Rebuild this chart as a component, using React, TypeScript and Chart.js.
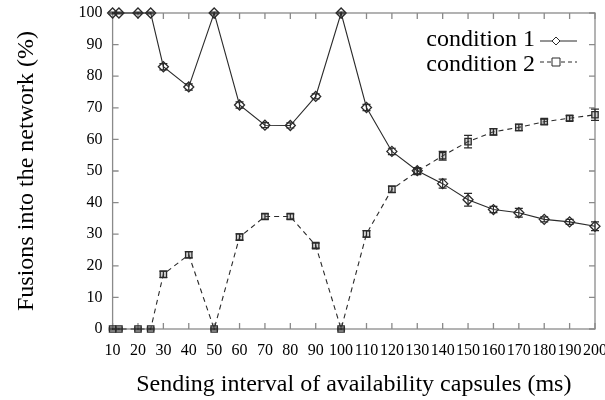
import React, { useEffect, useRef } from "react";
import { Chart, registerables } from "chart.js";
Chart.register(...registerables);

const xValues = [10, 12.5, 20, 25, 30, 40, 50, 60, 70, 80, 90, 100, 110, 120, 130, 140, 150, 160, 170, 180, 190, 200];
const cond1 = [100, 100, 100, 100, 83, 76.6, 100, 70.9, 64.5, 64.4, 73.6, 100, 70.1, 56.2, 50.1, 46, 40.9, 37.8, 36.8, 34.7, 33.9, 32.5];
const cond1Err = [0.3, 0.3, 0.3, 0.3, 1, 1, 0.3, 1, 0.8, 0.8, 0.8, 0.3, 1, 1, 1, 1.4, 2, 1, 1.4, 0.8, 0.8, 1.4];
const cond2 = [0, 0, 0, 0, 17.3, 23.5, 0, 29.1, 35.6, 35.6, 26.4, 0, 30.1, 44.2, 49.9, 54.8, 59.3, 62.4, 63.8, 65.6, 66.7, 67.8];
const cond2Err = [0.3, 0.3, 0.3, 0.3, 1, 1, 0.3, 1, 0.8, 0.8, 0.8, 0.3, 1, 1, 1, 1.4, 2, 1, 1, 0.8, 0.8, 1.8];
const seriesLabels = ["condition 1", "condition 2"];
const xTitle = "Sending interval of availability capsules (ms)";
const yTitle = "Fusions into the network (%)";

const FONT = "'Liberation Serif', 'DejaVu Serif', serif";
const LINE = "#2a2a2a";
const AXIS = "#8a8a8a";

const frame = {
  id: "frame",
  beforeDatasetsDraw(chart: any) {
    const { ctx, chartArea: a, scales } = chart;
    ctx.save();
    ctx.strokeStyle = AXIS;
    ctx.lineWidth = 1.3;
    ctx.strokeRect(a.left, a.top, a.right - a.left, a.bottom - a.top);
    const tl = 6;
    ctx.beginPath();
    scales.x.ticks.forEach((t: any) => {
      const px = scales.x.getPixelForValue(t.value);
      ctx.moveTo(px, a.bottom);
      ctx.lineTo(px, a.bottom - tl);
      ctx.moveTo(px, a.top);
      ctx.lineTo(px, a.top + tl);
    });
    scales.y.ticks.forEach((t: any) => {
      const py = scales.y.getPixelForValue(t.value);
      ctx.moveTo(a.left, py);
      ctx.lineTo(a.left + tl, py);
      ctx.moveTo(a.right, py);
      ctx.lineTo(a.right - tl, py);
    });
    ctx.stroke();
    ctx.restore();
  },
};

const errorBars = {
  id: "errorBars",
  afterDatasetsDraw(chart: any) {
    const { ctx, scales } = chart;
    const errs = [cond1Err, cond2Err];
    ctx.save();
    ctx.strokeStyle = LINE;
    ctx.lineWidth = 1.2;
    chart.data.datasets.forEach((ds: any, i: number) => {
      ds.data.forEach((p: any, j: number) => {
        const e = errs[i][j];
        const px = scales.x.getPixelForValue(p.x);
        const y1 = scales.y.getPixelForValue(p.y - e);
        const y2 = scales.y.getPixelForValue(p.y + e);
        ctx.beginPath();
        ctx.moveTo(px, y1);
        ctx.lineTo(px, y2);
        ctx.moveTo(px - 4, y1);
        ctx.lineTo(px + 4, y1);
        ctx.moveTo(px - 4, y2);
        ctx.lineTo(px + 4, y2);
        ctx.stroke();
      });
    });
    ctx.restore();
  },
};

const legendPlugin = {
  id: "customLegend",
  afterDraw(chart: any) {
    const { ctx } = chart;
    ctx.save();
    const rows = [
      { y: 40, ly: 41, dash: [] as number[], style: "rectRot" },
      { y: 65, ly: 62, dash: [4, 3], style: "rect" },
    ];
    chart.data.datasets.forEach((ds: any, i: number) => {
      const r = rows[i];
      ctx.fillStyle = "#000";
      ctx.font = `24px ${FONT}`;
      ctx.textAlign = "right";
      ctx.textBaseline = "middle";
      ctx.fillText(ds.label, 535, r.y);
      ctx.strokeStyle = LINE;
      ctx.lineWidth = 1;
      ctx.setLineDash(r.dash);
      ctx.beginPath();
      ctx.moveTo(540, r.ly);
      ctx.lineTo(577, r.ly);
      ctx.stroke();
      ctx.setLineDash([]);
      ctx.fillStyle = "#fff";
      ctx.beginPath();
      const cx = 556;
      if (r.style === "rectRot") {
        ctx.moveTo(cx, r.ly - 4);
        ctx.lineTo(cx + 4, r.ly);
        ctx.lineTo(cx, r.ly + 4);
        ctx.lineTo(cx - 4, r.ly);
        ctx.closePath();
      } else {
        ctx.rect(cx - 4, r.ly - 4, 8, 8);
      }
      ctx.fill();
      ctx.stroke();
    });
    ctx.restore();
  },
};

export default function App() {
  const ref = useRef<HTMLCanvasElement>(null);
  useEffect(() => {
    const canvas = ref.current!;
    const chart = new Chart(canvas, {
      type: "line",
      data: {
        datasets: [
          {
            label: seriesLabels[0],
            data: xValues.map((x, i) => ({ x, y: cond1[i] })),
            borderColor: LINE,
            borderWidth: 1.1,
            pointStyle: "rectRot",
            pointRadius: 5,
            pointBorderColor: LINE,
            pointBackgroundColor: "rgba(255,255,255,0)",
            pointBorderWidth: 1.3,
            clip: false as any,
          },
          {
            label: seriesLabels[1],
            data: xValues.map((x, i) => ({ x, y: cond2[i] })),
            borderColor: LINE,
            borderWidth: 1.1,
            borderDash: [5, 4],
            pointStyle: "rect",
            pointRadius: 4.5,
            pointBorderColor: LINE,
            pointBackgroundColor: "rgba(120,120,120,0.35)",
            pointBorderWidth: 1.3,
            clip: false as any,
          },
        ],
      },
      options: {
        animation: false,
        responsive: false,
        layout: { padding: { top: 13, right: 10, left: 0, bottom: 0 } },
        plugins: { legend: { display: false }, tooltip: { enabled: false } },
        scales: {
          x: {
            type: "linear",
            min: 10,
            max: 200,
            grid: { display: false, drawTicks: false },
            border: { display: false },
            ticks: {
              stepSize: 10,
              autoSkip: false,
              maxRotation: 0,
              padding: 12,
              color: "#000",
              font: { family: FONT, size: 16 },
            },
            title: {
              display: true,
              text: xTitle,
              color: "#000",
              font: { family: FONT, size: 24 },
              padding: { top: 0, bottom: 1 },
            },
            afterFit(scale: any) {
              scale.height = 71;
              scale.paddingLeft = 0;
              scale.paddingRight = 0;
            },
          },
          y: {
            min: 0,
            max: 100,
            grid: { display: false, drawTicks: false },
            border: { display: false },
            ticks: {
              stepSize: 10,
              padding: 10,
              color: "#000",
              font: { family: FONT, size: 16 },
            },
            title: {
              display: true,
              text: yTitle,
              color: "#000",
              font: { family: FONT, size: 24 },
              padding: { top: 12, bottom: 0 },
            },
            afterFit(scale: any) {
              scale.width = 112.6;
              scale.paddingTop = 0;
              scale.paddingBottom = 0;
            },
          },
        },
      },
      plugins: [frame, errorBars, legendPlugin],
    });
    return () => chart.destroy();
  }, []);
  return (
    <div style={{ position: "fixed", left: 0, top: 0, width: 605, height: 400, background: "#fff" }}>
      <canvas ref={ref} width={605} height={400} />
    </div>
  );
}
